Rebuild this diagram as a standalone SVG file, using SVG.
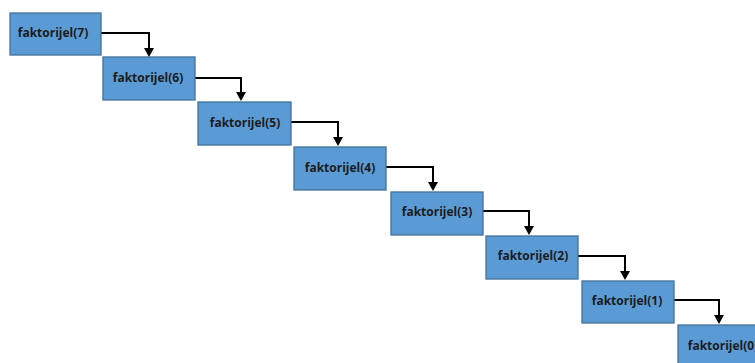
<svg xmlns="http://www.w3.org/2000/svg" width="755" height="363" viewBox="0 0 755 363">
<style>
.box{fill:#5b9bd5;stroke:#41719c;stroke-width:1.3}
.lbl{font-family:"Open Sans","Noto Sans","DejaVu Sans",sans-serif;font-weight:bold;font-size:12px;fill:#1c1c1c;text-anchor:middle;dominant-baseline:central}
.con{fill:none;stroke:#000;stroke-width:2}
</style>
<rect width="755" height="363" fill="#fff"/>
<g id="connectors">
<path class="con" d="M101,33 H149 V50" />
<path class="con" d="M195,78 H241 V94" />
<path class="con" d="M291,122 H338 V139" />
<path class="con" d="M386,167 H433 V184" />
<path class="con" d="M483,211 H529 V228" />
<path class="con" d="M578,256 H625 V273" />
<path class="con" d="M674,300 H719 V317" />
<g fill="#000">
<path d="M144,48 L154,48 L149,57 Z"/>
<path d="M236,92 L246,92 L241,101 Z"/>
<path d="M333,137 L343,137 L338,146 Z"/>
<path d="M428,182 L438,182 L433,191 Z"/>
<path d="M524,226 L534,226 L529,235 Z"/>
<path d="M620,271 L630,271 L625,280 Z"/>
<path d="M714,315 L724,315 L719,324 Z"/>
</g>
</g>
<g id="n7"><rect class="box" x="10" y="13" width="91" height="42"/><text class="lbl" x="53" y="32">faktorijel(7)</text></g>
<g id="n6"><rect class="box" x="103" y="57" width="92" height="43"/><text class="lbl" x="148" y="77">faktorijel(6)</text></g>
<g id="n5"><rect class="box" x="198" y="102" width="93" height="43"/><text class="lbl" x="245" y="122">faktorijel(5)</text></g>
<g id="n4"><rect class="box" x="294" y="147" width="92" height="43"/><text class="lbl" x="340" y="167">faktorijel(4)</text></g>
<g id="n3"><rect class="box" x="391" y="192" width="92" height="43"/><text class="lbl" x="437" y="211">faktorijel(3)</text></g>
<g id="n2"><rect class="box" x="486" y="236" width="92" height="43"/><text class="lbl" x="533" y="255">faktorijel(2)</text></g>
<g id="n1"><rect class="box" x="582" y="281" width="92" height="42"/><text class="lbl" x="627" y="300">faktorijel(1)</text></g>
<g id="n0"><rect class="box" x="678" y="325" width="92" height="43"/><text class="lbl" x="723" y="345">faktorijel(0)</text></g>
</svg>
